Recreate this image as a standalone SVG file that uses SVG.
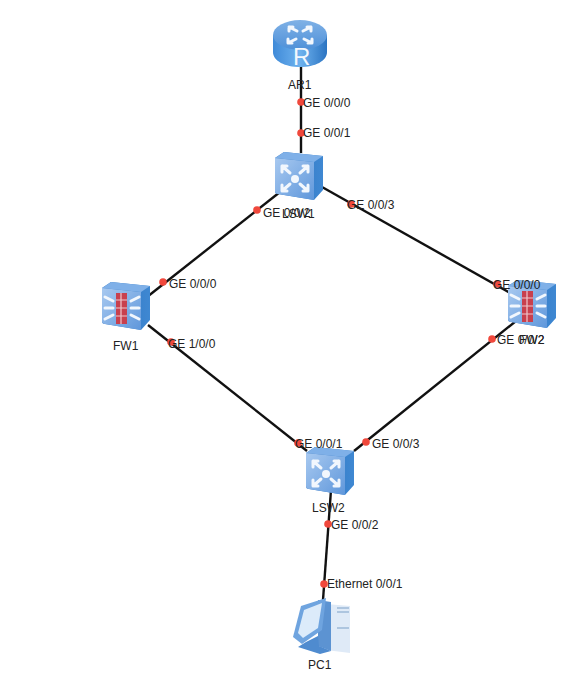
<svg xmlns="http://www.w3.org/2000/svg" width="575" height="681" viewBox="0 0 575 681">
<style>
text{font-family:"Liberation Sans",Arial,sans-serif;font-size:12px;fill:#222}
.link{stroke:#111;stroke-width:2.4;fill:none;stroke-linecap:butt}
.dot{fill:#f0483c}
.wh{fill:none;stroke:#f2f7fd;stroke-width:3;stroke-linecap:round;stroke-linejoin:round}
</style>
<defs>
<linearGradient id="front" x1="0" y1="0" x2="1" y2="1"><stop offset="0" stop-color="#a8c9f0"/><stop offset="1" stop-color="#5f97db"/></linearGradient>
<linearGradient id="side" x1="0" y1="0" x2="1" y2="0"><stop offset="0" stop-color="#2c70bd"/><stop offset="1" stop-color="#3f88d2"/></linearGradient>
<linearGradient id="rt" x1="0" y1="0" x2="0" y2="1"><stop offset="0" stop-color="#7fb1e6"/><stop offset="1" stop-color="#4e90d8"/></linearGradient>
<linearGradient id="rb" x1="0" y1="0" x2="1" y2="0"><stop offset="0" stop-color="#3f8ad8"/><stop offset=".5" stop-color="#6eb2ee"/><stop offset="1" stop-color="#2b74c2"/></linearGradient>
<g id="box">
<path d="M0 6 L9 0 L48 4 L48 38 L39 48 L3 42 Q0 42 0 39 Z" fill="url(#side)"/>
<path d="M0 6 L9 0 L48 4 L39 10 Z" fill="#7fb0e8"/>
<path d="M0 6 L39 10 L39 48 L3 42 Q0 42 0 39 Z" fill="url(#front)"/>
</g>
<g id="switchArt">
<use href="#box"/>
<circle cx="20" cy="27" r="4" fill="#f2f7fd"/>
<path class="wh" d="M7 14 L15 21 M7 20 V14 H12 M33 14 L25 21 M33 20 V14 H28 M7 39 L15 32 M7 33 V39 H12 M33 39 L25 32 M33 33 V39 H28"/>
</g>
<g id="firewallArt">
<use href="#box"/>
<rect x="14" y="11" width="11" height="31" fill="#c8404e"/>
<path d="M14 18 H25 M14 26 H25 M14 34 H25 M19 11 V42" stroke="#eec6cc" stroke-width="1.2"/>
<path class="wh" stroke-width="1.8" d="M3 15 L11 19 M3 26 H11 M3 37 L11 33 M29 19 L37 15 M29 26 H37 M29 33 L37 37"/>
</g>
</defs>
<rect width="575" height="681" fill="#fff"/>
<g id="connectors">
<path class="link" d="M301 64 V153"/>
<path class="link" d="M280 192 L147 297"/>
<path class="link" d="M322 187 L512 294"/>
<path class="link" d="M148 325 L307 451"/>
<path class="link" d="M516 321 L354 451"/>
<path class="link" d="M331 490 L323 600"/>
<g class="dot">
<circle cx="301" cy="102" r="3.8"/><circle cx="301" cy="133" r="3.8"/>
<circle cx="257" cy="210" r="3.8"/><circle cx="163" cy="282" r="3.8"/>
<circle cx="351" cy="204" r="3.8"/><circle cx="497" cy="284" r="3.8"/>
<circle cx="171" cy="342" r="3.8"/><circle cx="298" cy="443" r="3.8"/>
<circle cx="492" cy="339" r="3.8"/><circle cx="366" cy="442" r="3.8"/>
<circle cx="328" cy="524" r="3.8"/><circle cx="324" cy="584" r="3.8"/>
</g>
</g>
<g id="AR1">
<path d="M273 35 V52 C273 61 285 67 300 67 C315 67 327 61 327 52 V35 Z" fill="url(#rb)"/>
<ellipse cx="300" cy="35" rx="27" ry="15" fill="url(#rt)"/>
<path class="wh" stroke-width="2" d="M289 27 L297 31 M289 31 V27 H293 M311 27 L303 31 M311 31 V27 H307 M288 43 L296 39 M288 39 V43 H292 M312 43 L304 39 M312 39 V43 H308"/>
<text x="293" y="65" style="font-size:24px;fill:#f2f7fd">R</text>
<text x="288" y="89">AR1</text>
</g>
<g id="LSW1">
<use href="#switchArt" x="275" y="152"/>
<text x="282" y="218">LSW1</text>
</g>
<g id="FW1">
<use href="#firewallArt" x="102" y="282"/>
<text x="113" y="350">FW1</text>
</g>
<g id="FW2">
<use href="#firewallArt" x="508" y="280"/>
<text x="519" y="344">FW2</text>
</g>
<g id="LSW2">
<use href="#switchArt" x="306" y="447"/>
<text x="312" y="512">LSW2</text>
</g>
<g id="PC1">
<path d="M326 604 L350 606 V653 L326 650 Z" fill="#dfeaf7"/>
<path d="M318 600 L331 602 L331 651 L318 646 Z" fill="#5c93d2"/>
<path d="M293 637 L301 606 L326 598 L322 630 L302 644 Z" fill="#6fa4df"/>
<path d="M298 633 L304 610 L322 603 L318 628 L303 638 Z" fill="#dcebfa"/>
<path d="M306 642 L318 636 L319 646 L331 651 L320 654 L298 647 Z" fill="#4f8bcf"/>
<path d="M337 608 H349 M337 612 H349 M337 628 H349" stroke="#7d9fc8" stroke-width="1.2"/>
<text x="308" y="669">PC1</text>
</g>
<g id="interface-labels">
<text x="303" y="107">GE 0/0/0</text>
<text x="303" y="137">GE 0/0/1</text>
<text x="263" y="217">GE 0/0/2</text>
<text x="347" y="209">GE 0/0/3</text>
<text x="169" y="288">GE 0/0/0</text>
<text x="493" y="289">GE 0/0/0</text>
<text x="168" y="348">GE 1/0/0</text>
<text x="497" y="344">GE 0/0/2</text>
<text x="295" y="448">GE 0/0/1</text>
<text x="372" y="448">GE 0/0/3</text>
<text x="331" y="529">GE 0/0/2</text>
<text x="327" y="588">Ethernet 0/0/1</text>
</g>
</svg>
